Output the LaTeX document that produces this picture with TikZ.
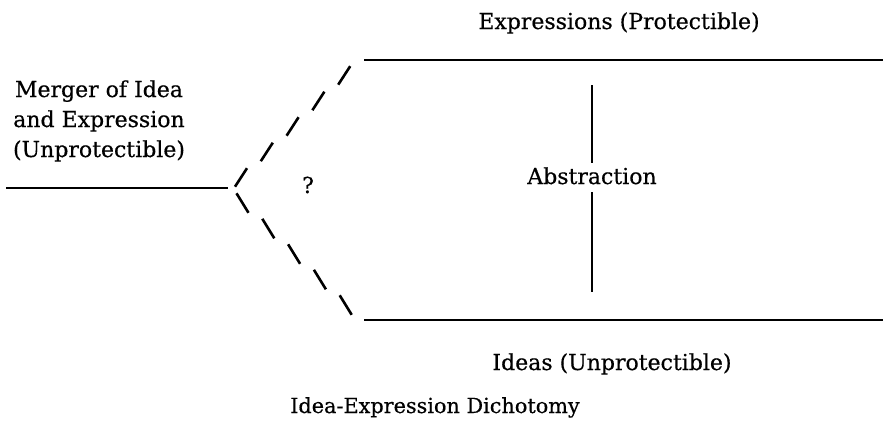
\documentclass[tikz,border=0pt]{standalone}
\usepackage{fontspec}
\setmainfont{DejaVu Serif}[FakeBold=0.5]
\begin{document}
\begin{tikzpicture}[x=1pt,y=-1pt,
  lbl/.style={inner sep=0pt,anchor=base,align=center,font=\fontsize{22}{30}\selectfont},
  solidline/.style={line width=2.5pt},
  dashseg/.style={line width=2.6pt}]
\useasboundingbox (0,0) rectangle (883,434);
% texts
\node[lbl] (merger) at (99,157) {Merger of Idea\\and Expression\\(Unprotectible)};
\node[lbl] (expr) at (619,29) {Expressions (Protectible)};
\node[lbl] (ideas) at (612,370) {Ideas (Unprotectible)};
\node[lbl] (abs) at (592,184) {Abstraction};
\node[lbl] (q) at (308,193) {?};
\node[lbl,font=\fontsize{20.8}{30}\selectfont] (title) at (435,413) {Idea-Expression Dichotomy};
% solid lines
\coordinate (l1) at (6,188);
\coordinate (l2) at (228,188);
\coordinate (t1) at (364,60);
\coordinate (t2) at (883,60);
\coordinate (b1) at (364,320);
\coordinate (b2) at (883,320);
\coordinate (v1) at (592,85);
\coordinate (v2) at (592,163);
\coordinate (v3) at (592,192);
\coordinate (v4) at (592,292);
\draw[solidline] (l1) -- (l2);
\draw[solidline] (t1) -- (t2);
\draw[solidline] (b1) -- (b2);
\draw[solidline] (v1) -- (v2);
\draw[solidline] (v3) -- (v4);
% dashed branches
\foreach \i in {0,...,4}{
  \coordinate (u\i) at (235+25.8*\i,186.7-25.5*\i);
  \draw[dashseg] (u\i) -- ++(12,-18.5);
  \coordinate (d\i) at (236.5+25.8*\i,193.3+25.5*\i);
  \draw[dashseg] (d\i) -- ++(12,19.5);
}
\end{tikzpicture}
\end{document}
